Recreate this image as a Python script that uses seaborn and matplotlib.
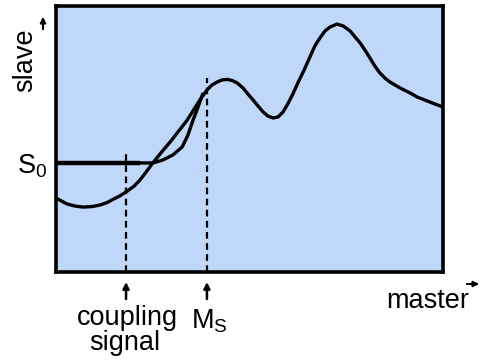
import matplotlib
matplotlib.use("Agg")
import matplotlib.pyplot as plt
from matplotlib.patches import FancyArrowPatch
import pandas as pd
import seaborn as sns

sns.set_style("white")
plt.rcParams["font.family"] = ["Liberation Sans", "DejaVu Sans"]
plt.rcParams["text.color"] = "black"
plt.rcParams["mathtext.fontset"] = "custom"
plt.rcParams["mathtext.rm"] = "Liberation Sans"

# master -> slave response curve (arbitrary units, 0..10)
master = [0.00, 0.28, 0.49, 0.70, 0.93, 1.14, 1.32, 1.47, 1.65, 1.83, 2.02,
          2.17, 2.33, 2.48, 2.69, 2.95, 3.15, 3.39, 3.57, 3.72, 3.90, 4.03,
          4.16, 4.29, 4.42, 4.55, 4.68, 4.83, 4.96, 5.09, 5.22, 5.35, 5.48,
          5.61, 5.74, 5.87, 5.99, 6.12, 6.25, 6.41, 6.56, 6.69, 6.82, 6.95,
          7.08, 7.26, 7.42, 7.60, 7.73, 7.86, 7.98, 8.11, 8.24, 8.37, 8.50,
          8.63, 8.89, 9.15, 9.33, 9.66, 10.00]
slave = [2.78, 2.56, 2.48, 2.44, 2.46, 2.52, 2.61, 2.73, 2.86, 3.03, 3.23,
         3.46, 3.76, 4.06, 4.44, 4.89, 5.26, 5.71, 6.13, 6.47, 6.84, 7.03,
         7.14, 7.22, 7.24, 7.20, 7.11, 6.92, 6.69, 6.47, 6.24, 6.02, 5.86,
         5.79, 5.83, 6.02, 6.32, 6.69, 7.11, 7.59, 8.08, 8.50, 8.80, 9.06,
         9.21, 9.32, 9.25, 9.06, 8.83, 8.61, 8.35, 8.05, 7.74, 7.48, 7.29,
         7.14, 6.92, 6.73, 6.58, 6.39, 6.20]

# slave held at S0 until coupling, then pulled onto the master curve
held_x = [0.00, 2.17]
held_y = [4.10, 4.10]
pull_x = [2.17, 2.51, 2.76, 3.02, 3.26, 3.41, 3.54, 3.67, 3.80]
pull_y = [4.10, 4.10, 4.21, 4.40, 4.70, 5.15, 5.71, 6.20, 6.73]

# coupling signal and M_S marker positions
mark_x = [1.81, 3.90]
mark_top = [4.51, 7.29]

df = pd.DataFrame({"master": master, "slave": slave})

fig = plt.figure(figsize=(4.83, 3.6), dpi=100)
ax = fig.add_axes([56 / 483, 88 / 360, 387 / 483, 266 / 360])
ax.set_facecolor("#bfd7f8")

line_kw = dict(sort=False, estimator=None, color="black",
               solid_joinstyle="round", solid_capstyle="butt", ax=ax)
sns.lineplot(data=df, x="master", y="slave", lw=2.4, **line_kw)
sns.lineplot(x=held_x, y=held_y, lw=3.2, **line_kw)
sns.lineplot(x=pull_x, y=pull_y, lw=2.4, **line_kw)
ax.vlines(mark_x, 0, mark_top, colors="black", linestyles=(0, (3, 2)), lw=1.6)

ax.set_xlim(0, 10)
ax.set_ylim(0, 10)
ax.set_xticks([])
ax.set_yticks([])
ax.set_xlabel("")
ax.set_ylabel("")
for s in ax.spines.values():
    s.set_visible(True)
    s.set_linewidth(2.6)
    s.set_color("black")

# arrows below the frame
for x in mark_x:
    ax.annotate("", xy=(x, 360 - 282), xytext=(x, 360 - 299),
                xycoords=("data", "figure pixels"),
                textcoords=("data", "figure pixels"),
                arrowprops=dict(arrowstyle="-|>", color="black", lw=1.8,
                                mutation_scale=9, shrinkA=0, shrinkB=0),
                annotation_clip=False)

fs = 19.5
fig.text(127 / 483, 1 - 318 / 360, "coupling", ha="center", va="center", fontsize=fs)
fig.text(125 / 483, 1 - 343 / 360, "signal", ha="center", va="center", fontsize=fs)
fig.text(191 / 483, 1 - 321 / 360, r"M$_\mathrm{S}$", ha="left", va="center", fontsize=fs)
fig.text(428 / 483, 1 - 301 / 360, "master", ha="center", va="center", fontsize=fs)
fig.text(25 / 483, 1 - 60 / 360, "slave", ha="center", va="center",
         rotation=90, fontsize=fs)
fig.text(17 / 483, 1 - 166 / 360, r"S$_\mathrm{0}$", ha="left", va="center", fontsize=fs)

# axis direction arrows
fig.add_artist(FancyArrowPatch(
    (43 / 483, 1 - 32 / 360), (43 / 483, 1 - 14 / 360),
    transform=fig.transFigure, arrowstyle="-|>", mutation_scale=8,
    color="black", lw=1.5))
fig.add_artist(FancyArrowPatch(
    (464 / 483, 1 - 284 / 360), (482 / 483, 1 - 284 / 360),
    transform=fig.transFigure, arrowstyle="-|>", mutation_scale=8,
    color="black", lw=1.5))

fig.savefig("out.png", dpi=100)
